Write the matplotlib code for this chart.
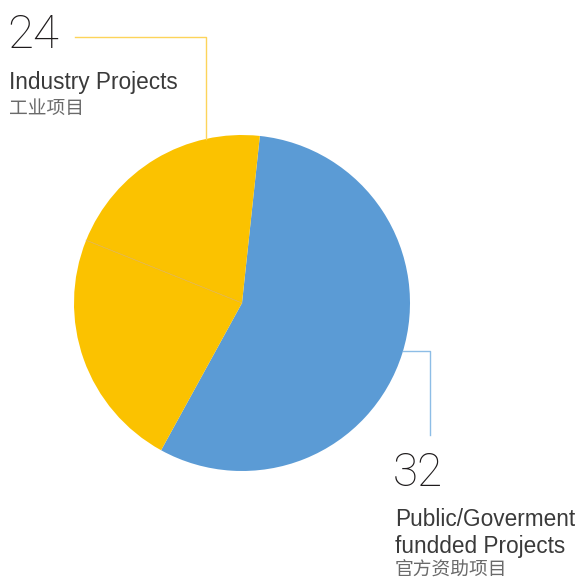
import numpy as np
import matplotlib
matplotlib.use('Agg')
import matplotlib.pyplot as plt

# slice values (blue = public, two yellow = industry)
labels = ['Public/Goverment', 'Industry A', 'Industry B']
values = [56.3, 23.1, 20.6]
colors = ['#5B9BD5', '#FBC200', '#FBC200']

industry_total = '24'
public_total = '32'
industry_text = 'Industry Projects'
industry_cn = '工业项目'
public_lines = ['Public/Goverment', 'fundded Projects']
public_cn = '官方资助项目'

W, H = 577, 581
fig = plt.figure(figsize=(W / 100, H / 100), dpi=100)
ax = fig.add_axes([0, 0, 1, 1])

cx, cy, r = 242, H - 303, 168
wedges, _ = ax.pie(values, colors=colors, startangle=83.9, counterclock=False,
                   center=(cx, cy), radius=r,
                   wedgeprops=dict(linewidth=0, edgecolor='none'))

# faint divider between the two yellow slices
a = np.deg2rad(wedges[1].theta1)
ax.plot([cx, cx + r * np.cos(a)], [cy, cy + r * np.sin(a)],
        color='#E2B44A', lw=0.6, zorder=5)

ax.set_xlim(0, W)
ax.set_ylim(0, H)
ax.set_aspect('equal')
ax.axis('off')

# leader lines
yl = H - 37
xv = 206
yend = cy + np.sqrt(r ** 2 - (xv - cx) ** 2)
ax.plot([75, xv, xv], [yl, yl, yend], color='#FDD45A', lw=1.0)

yb = H - 351
xs = cx + np.sqrt(r ** 2 - (cy - yb) ** 2)
ax.plot([xs, 430, 430], [yb, yb, H - 435], color='#8DBDE6', lw=1.0)

num_font = dict(family=['Roboto', 'DejaVu Sans'], weight='light', color='#1E1B1C')
en_font = dict(family=['Liberation Sans', 'DejaVu Sans'], color='#3A3A3A')
cn_font = dict(family=['Noto Sans CJK SC', 'DejaVu Sans'], color='#6A6A6A')

ax.text(7, H - 48, industry_total, fontsize=34, va='baseline', ha='left', **num_font)
ax.text(9, H - 89, industry_text, fontsize=16.3, va='baseline', ha='left', **en_font)
ax.text(9, H - 114, industry_cn, fontsize=13.5, va='baseline', ha='left', **cn_font)

ax.text(393, H - 486, public_total, fontsize=33, va='baseline', ha='left', **num_font)
for i, line in enumerate(public_lines):
    ax.text(395, H - 526 - 27 * i, line, fontsize=16.3, va='baseline', ha='left', **en_font)
ax.text(395, H - 576, public_cn, fontsize=13.5, va='baseline', ha='left', **cn_font)

fig.savefig('out.png', dpi=100)
